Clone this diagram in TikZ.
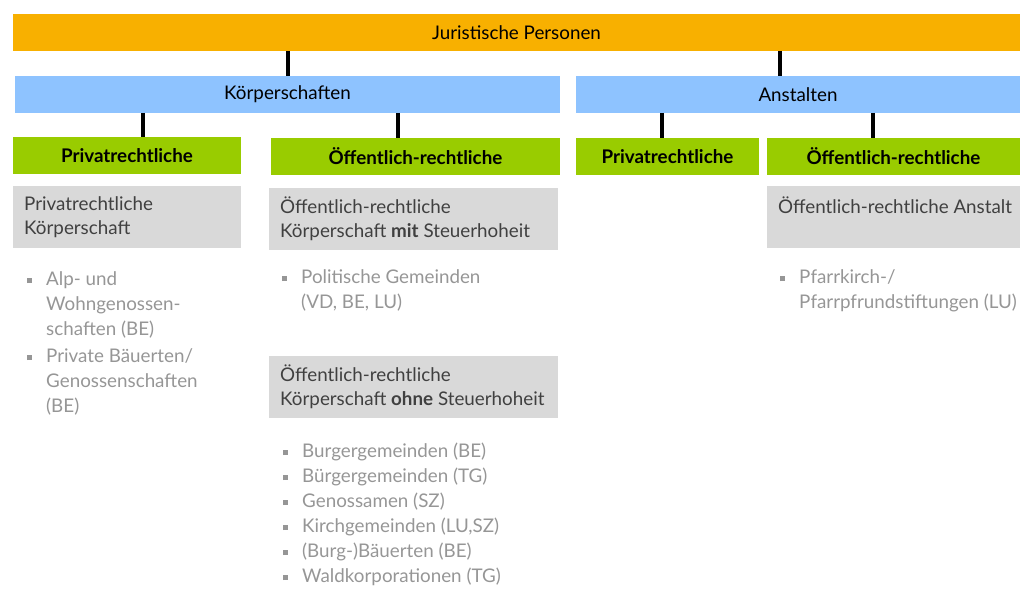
\documentclass[tikz,border=0pt]{standalone}
\usepackage{fontspec}
\setmainfont{Lato}
\usepackage{tikz}
\definecolor{jurorange}{RGB}{248,176,0}
\definecolor{korpblue}{RGB}{142,195,255}
\definecolor{rechtgreen}{RGB}{153,204,0}
\definecolor{boxgray}{RGB}{217,217,217}
\definecolor{listgray}{RGB}{150,150,150}
\definecolor{darktext}{RGB}{64,64,64}
\newcommand{\sqbul}{\strut\llap{\textcolor{listgray}{\rule[2.6pt]{5pt}{5pt}}\hspace{14pt}}}
\tikzset{barnode/.style={rectangle, inner sep=0pt, outer sep=0pt, minimum height=37pt, font=\fontsize{18.8}{24}\selectfont},
greenbar/.style={barnode, fill=rechtgreen, font=\fontsize{18.8}{24}\selectfont\bfseries},
graynode/.style={rectangle, fill=boxgray, inner sep=0pt, outer sep=0pt, minimum height=62pt},
graytext/.style={inner xsep=11pt, inner ysep=0pt, align=left, text=darktext, font=\fontsize{18.8}{24}\selectfont},
listnode/.style={anchor=north west, inner sep=0pt, align=left, text=listgray, font=\fontsize{18.8}{25}\selectfont},
tie/.style={line width=3.5pt}}

\begin{document}
\begin{tikzpicture}[x=1pt, y=-1pt]
\useasboundingbox (0,0) rectangle (1020,607);

%%Tap points of the connectors
\coordinate (tJK) at (288,0);
\coordinate (tJA) at (780,0);
\coordinate (tKP) at (143,0);
\coordinate (tKO) at (398,0);
\coordinate (tAP) at (662,0);
\coordinate (tAO) at (873,0);

%%Top bar
\node[barnode, fill=jurorange, minimum width=1007pt] (Jur) at (516.5,32.5) {Juristische Personen};

%%Koerperschaften & Anstalten
\node[barnode, fill=korpblue, minimum width=545pt] (Koerp) at (287.5,94.5) {Körperschaften};
\node[barnode, fill=korpblue, minimum width=444pt] (Anst) at (798,94.5) {Anstalten};

%%Privat- und oeffentlich-rechtliche
\node[greenbar, minimum width=228pt] (KPriv) at (127,155.5) {Privatrechtliche};
\node[greenbar, minimum width=289pt] (KOeff) at (415.5,156.5) {Öffentlich-rechtliche};
\node[greenbar, minimum width=183pt] (APriv) at (667.5,156.5) {Privatrechtliche};
\node[greenbar, minimum width=253pt] (AOeff) at (893.5,156.5) {Öffentlich-rechtliche};

%%Connectors
\draw[tie] (Jur.south -| tJK) -- (Koerp.north -| tJK);
\draw[tie] (Jur.south -| tJA) -- (Anst.north -| tJA);
\draw[tie] (Koerp.south -| tKP) -- (KPriv.north -| tKP);
\draw[tie] (Koerp.south -| tKO) -- (KOeff.north -| tKO);
\draw[tie] (Anst.south -| tAP) -- (APriv.north -| tAP);
\draw[tie] (Anst.south -| tAO) -- (AOeff.north -| tAO);

%%Gray boxes
\node[graynode, minimum width=228pt] (KPrivBox) at (127,217) {};
\node[graytext, right] at (KPrivBox.west) {Privatrechtliche\\Körperschaft};

\node[graynode, minimum width=289pt] (KMitBox) at (413.5,219) {};
\node[graytext, right] at (KMitBox.west) {Öffentlich-rechtliche\\Körperschaft \textbf{mit} Steuerhoheit};

\node[graynode, minimum width=289pt] (KOhneBox) at (413.5,387) {};
\node[graytext, right] at (KOhneBox.west) {Öffentlich-rechtliche\\Körperschaft \textbf{ohne} Steuerhoheit};

\node[graynode, minimum width=253pt] (AOeffBox) at (893.5,217) {};
\node[graytext, right, yshift=12pt] at (AOeffBox.west) {Öffentlich-rechtliche Anstalt};

%%Lists
\node[listnode] (KPrivList) at (46,268) {\sqbul Alp- und\\ Wohngenossen-\\ schaften (BE)\\[2pt]
\sqbul Private Bäuerten/\\ Genossenschaften\\ (BE)};

\node[listnode] (KMitList) at (301,266) {\sqbul Politische Gemeinden\\ (VD, BE, LU)};

\node[listnode] (KOhneList) at (302,440) {\sqbul Burgergemeinden (BE)\\
\sqbul Bürgergemeinden (TG)\\
\sqbul Genossamen (SZ)\\
\sqbul Kirchgemeinden (LU,SZ)\\
\sqbul (Burg-)Bäuerten (BE)\\
\sqbul Waldkorporationen (TG)};

\node[listnode] (AOeffList) at (799,266) {\sqbul Pfarrkirch-/\\ Pfarrpfrundstiftungen (LU)};

\end{tikzpicture}
\end{document}
